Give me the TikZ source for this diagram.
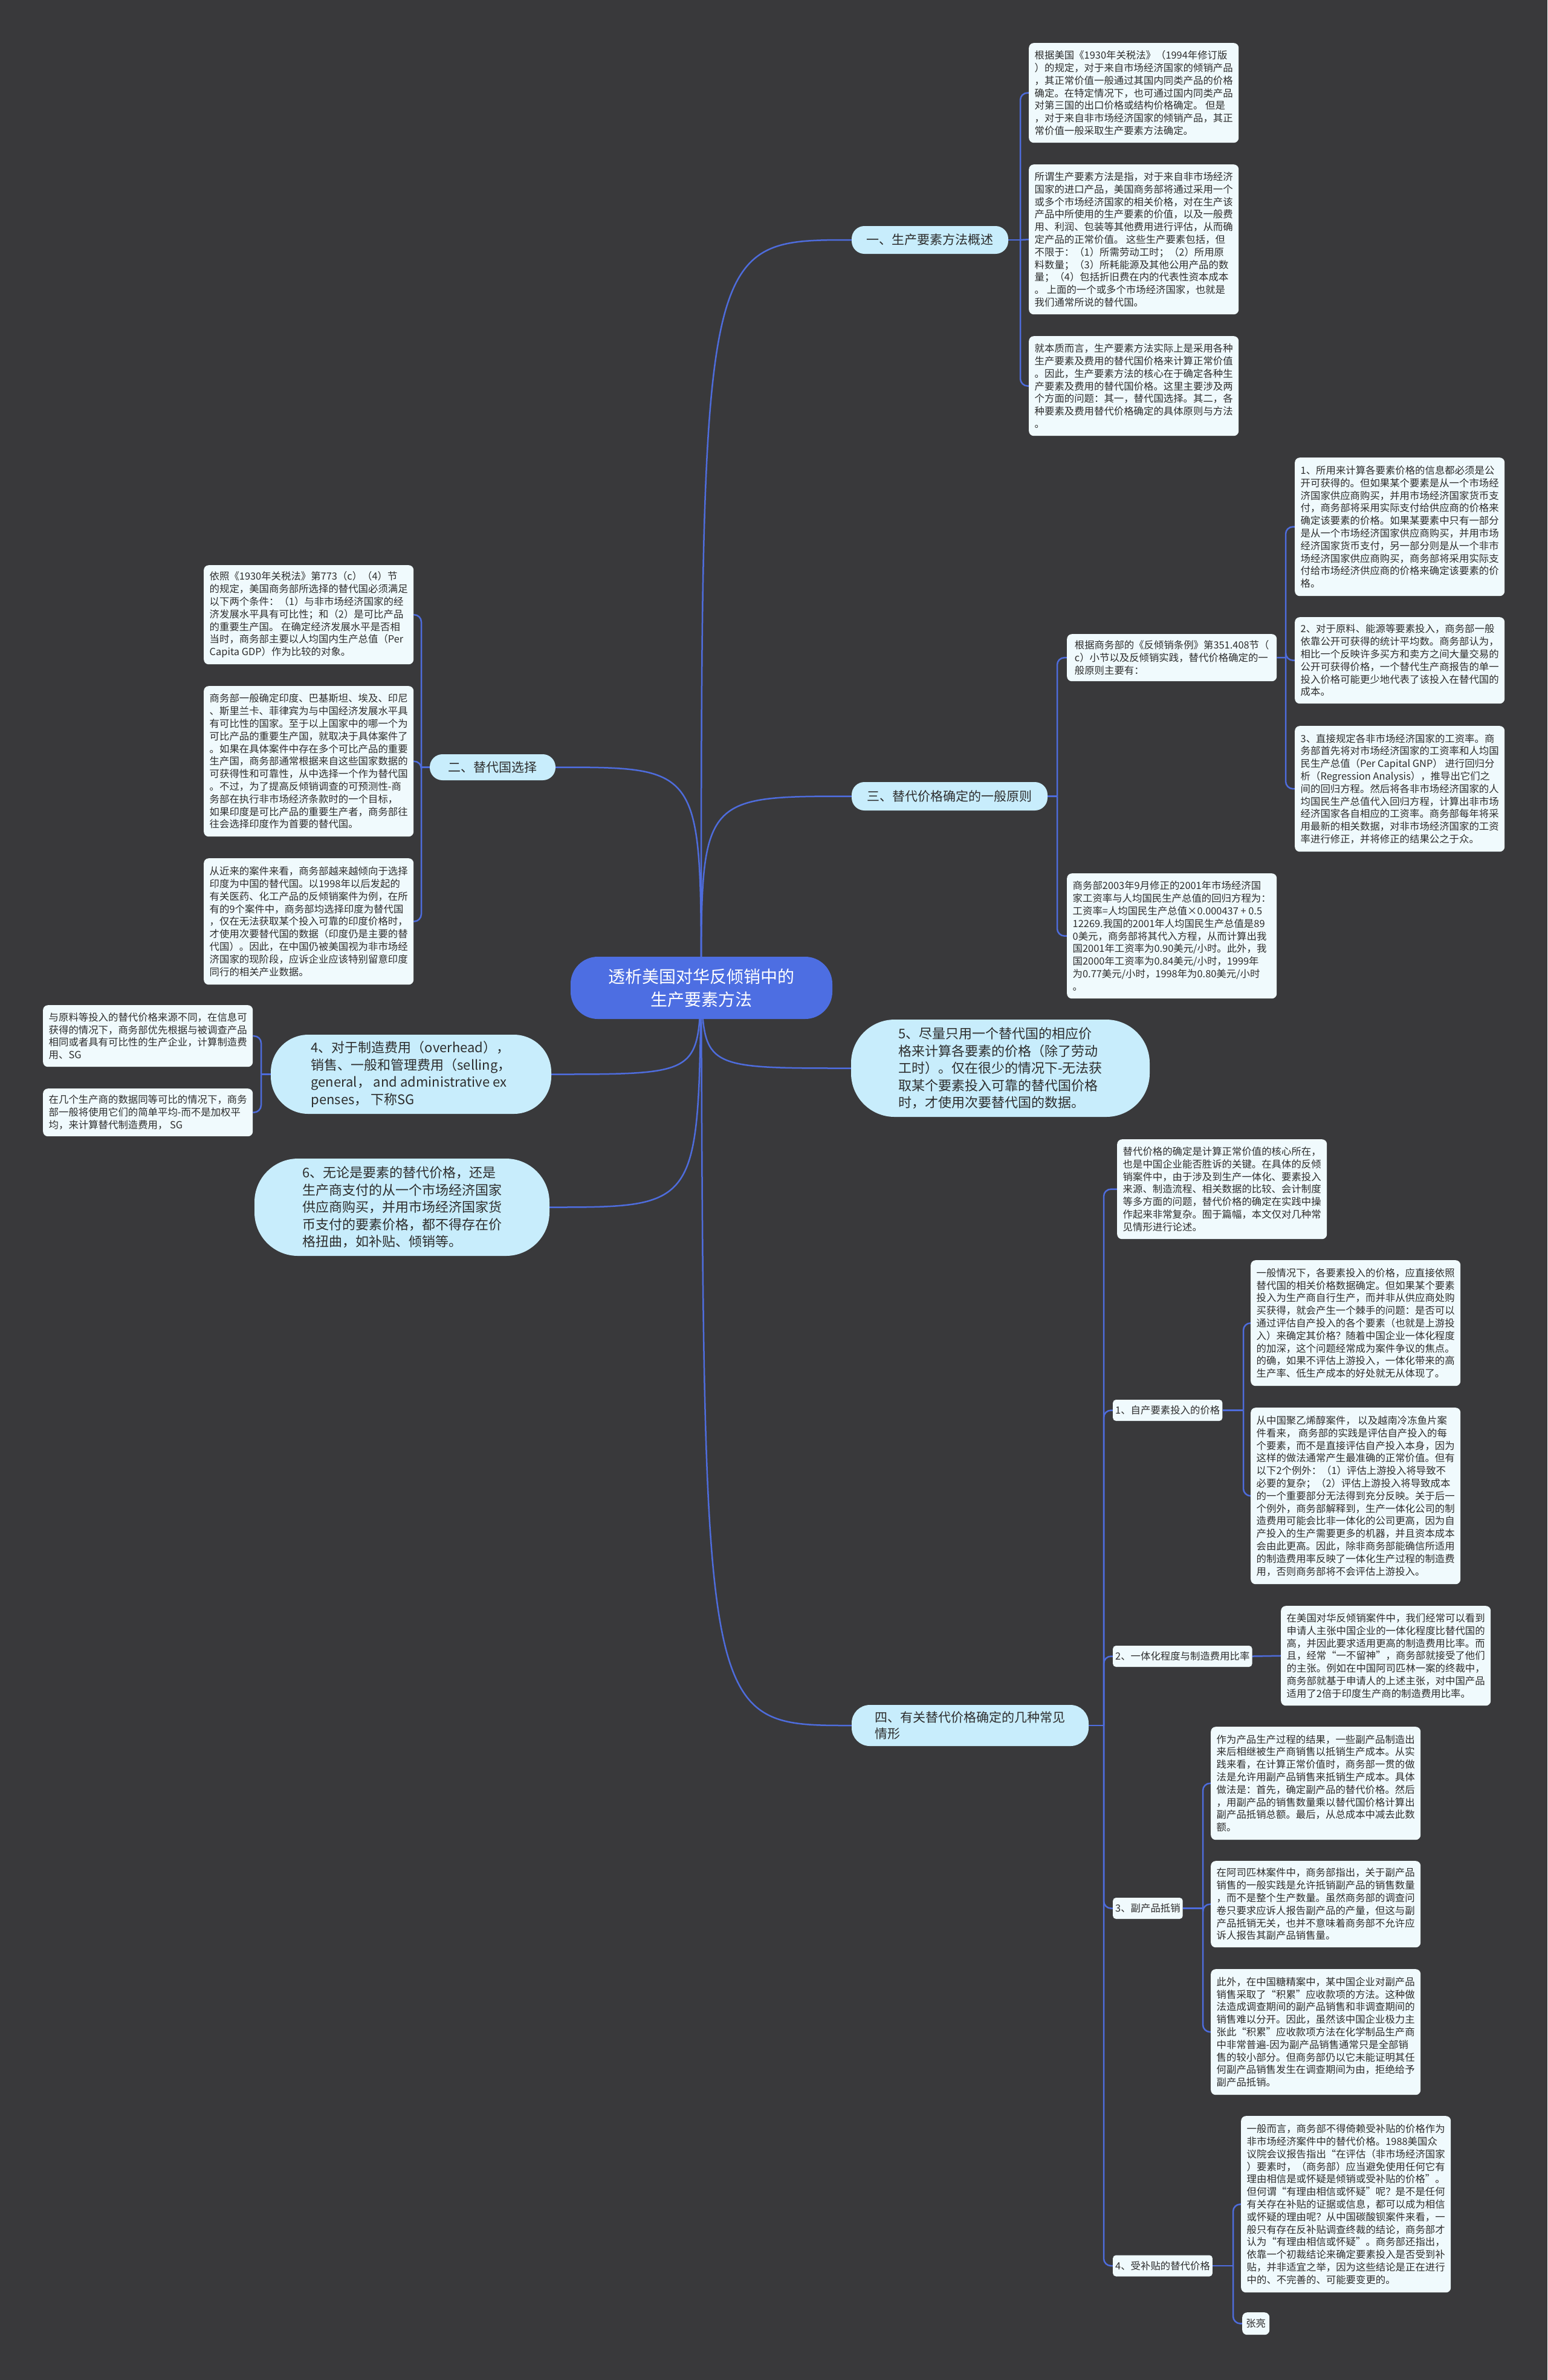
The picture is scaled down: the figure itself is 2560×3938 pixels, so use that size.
\documentclass[tikz,border=0pt]{standalone}
\usepackage{fontspec}
\setmainfont{Noto Sans CJK SC}
\usetikzlibrary{backgrounds}
\definecolor{bgc}{RGB}{57,57,59}
\definecolor{descfill}{RGB}{240,250,253}
\definecolor{pillfill}{RGB}{200,237,252}
\definecolor{cenfill}{RGB}{77,110,226}
\definecolor{linec}{RGB}{78,108,220}
\definecolor{txt}{RGB}{45,45,45}
\newcommand{\fdesc}{\fontsize{16.4}{20.8}\selectfont}
\newcommand{\fbranch}{\fontsize{21}{27}\selectfont}
\newcommand{\fbig}{\fontsize{22}{28.5}\selectfont}
\newcommand{\fcenter}{\fontsize{28}{38}\selectfont}
\tikzset{
  desc/.style={fill=descfill, rounded corners=8pt, anchor=north west, minimum width=347pt, inner xsep=6pt, inner ysep=0pt, align=left, font=\fdesc, text=txt},
  pill/.style={fill=pillfill, rounded corners=21pt, inner sep=0pt, align=left, font=\fbranch, text=txt},
  bigpill/.style={fill=pillfill, inner sep=0pt, align=left, font=\fbig, text=txt},
  sublab/.style={fill=descfill, rounded corners=5pt, anchor=west, inner xsep=4pt, inner ysep=0pt, minimum height=35pt, font=\fdesc, text=txt},
  conn/.style={draw=linec, line width=2.5pt},
  brk/.style={draw=linec, line width=2.5pt, rounded corners=12pt},
}
\begin{document}
\begin{tikzpicture}[x=1pt,y=-1pt]
\useasboundingbox (0,0) rectangle (2560,3938);
% central
\node[fill=cenfill, rounded corners=45pt, minimum width=433pt, minimum height=103pt, inner sep=0pt, align=center, font=\fcenter, text=white] (c) at (1160.5,1634.5) {透析美国对华反倾销中的\\生产要素方法};
% main branches
\node[pill, minimum width=259pt, minimum height=46pt] (n1) at (1538.5,397) {一、生产要素方法概述};
\node[pill, minimum width=324pt, minimum height=47pt] (n3) at (1571,1317.5) {三、替代价格确定的一般原则};
\node[pill, minimum width=208pt, minimum height=43pt] (n2) at (815,1269.5) {二、替代国选择};
\node[pill, rounded corners=30pt, minimum width=392pt, minimum height=68pt] (n4) at (1605,2855) {四、有关替代价格确定的几种常见\\情形};
\node[bigpill, rounded corners=72pt, minimum width=494pt, minimum height=161pt] (n5) at (1655,1767.5) {5、尽量只用一个替代国的相应价\\格来计算各要素的价格（除了劳动\\工时）。仅在很少的情况下-无法获\\取某个要素投入可靠的替代国价格\\时，才使用次要替代国的数据。};
\node[bigpill, rounded corners=62pt, minimum width=464pt, minimum height=131pt] (nf) at (680,1777.5) {4、对于制造费用（overhead），\\销售、一般和管理费用（selling，\\general， and administrative ex\\penses， 下称SG};
\node[bigpill, rounded corners=72pt, minimum width=488pt, minimum height=161pt] (n6) at (665,1997.5) {6、无论是要素的替代价格，还是\\生产商支付的从一个市场经济国家\\供应商购买，并用市场经济国家货\\币支付的要素价格，都不得存在价\\格扭曲，如补贴、倾销等。};
% branch 1 descriptions
\node[desc, minimum height=165pt] (T1) at (1702,71) {根据美国《1930年关税法》（1994年修订版\\）的规定，对于来自市场经济国家的倾销产品\\，其正常价值一般通过其国内同类产品的价格\\确定。在特定情况下，也可通过国内同类产品\\对第三国的出口价格或结构价格确定。 但是\\，对于来自非市场经济国家的倾销产品，其正\\常价值一般采取生产要素方法确定。};
\node[desc, minimum height=248pt] (T2) at (1702,272) {所谓生产要素方法是指，对于来自非市场经济\\国家的进口产品，美国商务部将通过采用一个\\或多个市场经济国家的相关价格，对在生产该\\产品中所使用的生产要素的价值，以及一般费\\用、利润、包装等其他费用进行评估，从而确\\定产品的正常价值。 这些生产要素包括，但\\不限于：（1）所需劳动工时；（2）所用原\\料数量；（3）所耗能源及其他公用产品的数\\量；（4）包括折旧费在内的代表性资本成本\\。 上面的一个或多个市场经济国家，也就是\\我们通常所说的替代国。};
\node[desc, minimum height=165pt] (T3) at (1702,556) {就本质而言，生产要素方法实际上是采用各种\\生产要素及费用的替代国价格来计算正常价值\\。因此，生产要素方法的核心在于确定各种生\\产要素及费用的替代国价格。这里主要涉及两\\个方面的问题：其一，替代国选择。其二，各\\种要素及费用替代价格确定的具体原则与方法\\。};
% branch 3
\node[desc, minimum height=78pt] (M1) at (1765,1049) {根据商务部的《反倾销条例》第351.408节（\\c）小节以及反倾销实践，替代价格确定的一\\般原则主要有：};
\node[desc, minimum height=207pt] (M2) at (1765,1445) {商务部2003年9月修正的2001年市场经济国\\家工资率与人均国民生产总值的回归方程为：\\工资率=人均国民生产总值×0.000437 + 0.5\\12269.我国的2001年人均国民生产总值是89\\0美元，商务部将其代入方程，从而计算出我\\国2001年工资率为0.90美元/小时。此外，我\\国2000年工资率为0.84美元/小时，1999年\\为0.77美元/小时，1998年为0.80美元/小时\\。};
\node[desc, minimum height=229pt] (R1) at (2142,757) {1、所用来计算各要素价格的信息都必须是公\\开可获得的。但如果某个要素是从一个市场经\\济国家供应商购买，并用市场经济国家货币支\\付，商务部将采用实际支付给供应商的价格来\\确定该要素的价格。如果某要素中只有一部分\\是从一个市场经济国家供应商购买，并用市场\\经济国家货币支付，另一部分则是从一个非市\\场经济国家供应商购买，商务部将采用实际支\\付给市场经济供应商的价格来确定该要素的价\\格。};
\node[desc, minimum height=143pt] (R2) at (2142,1021) {2、对于原料、能源等要素投入，商务部一般\\依靠公开可获得的统计平均数。商务部认为，\\相比一个反映许多买方和卖方之间大量交易的\\公开可获得价格，一个替代生产商报告的单一\\投入价格可能更少地代表了该投入在替代国的\\成本。};
\node[desc, minimum height=208pt] (R3) at (2142,1201) {3、直接规定各非市场经济国家的工资率。商\\务部首先将对市场经济国家的工资率和人均国\\民生产总值（Per Capital GNP） 进行回归分\\析（Regression Analysis），推导出它们之\\间的回归方程。然后将各非市场经济国家的人\\均国民生产总值代入回归方程，计算出非市场\\经济国家各自相应的工资率。商务部每年将采\\用最新的相关数据，对非市场经济国家的工资\\率进行修正，并将修正的结果公之于众。};
% branch 2
\node[desc, minimum height=164pt] (L1) at (337,935) {依照《1930年关税法》第773（c）（4）节\\的规定，美国商务部所选择的替代国必须满足\\以下两个条件：（1）与非市场经济国家的经\\济发展水平具有可比性；和（2）是可比产品\\的重要生产国。 在确定经济发展水平是否相\\当时，商务部主要以人均国内生产总值（Per\\Capita GDP）作为比较的对象。};
\node[desc, minimum height=249pt] (L2) at (337,1135) {商务部一般确定印度、巴基斯坦、埃及、印尼\\、斯里兰卡、菲律宾为与中国经济发展水平具\\有可比性的国家。至于以上国家中的哪一个为\\可比产品的重要生产国，就取决于具体案件了\\。如果在具体案件中存在多个可比产品的重要\\生产国，商务部通常根据来自这些国家数据的\\可获得性和可靠性，从中选择一个作为替代国\\。不过，为了提高反倾销调查的可预测性-商\\务部在执行非市场经济条款时的一个目标，\\如果印度是可比产品的重要生产者，商务部往\\往会选择印度作为首要的替代国。};
\node[desc, minimum height=209pt] (L3) at (337,1420) {从近来的案件来看，商务部越来越倾向于选择\\印度为中国的替代国。以1998年以后发起的\\有关医药、化工产品的反倾销案件为例，在所\\有的9个案件中，商务部均选择印度为替代国\\，仅在无法获取某个投入可靠的印度价格时，\\才使用次要替代国的数据（印度仍是主要的替\\代国）。因此，在中国仍被美国视为非市场经\\济国家的现阶段，应诉企业应该特别留意印度\\同行的相关产业数据。};
% node 4 children
\node[desc, minimum height=102pt] (A) at (71,1663) {与原料等投入的替代价格来源不同，在信息可\\获得的情况下，商务部优先根据与被调查产品\\相同或者具有可比性的生产企业，计算制造费\\用、SG};
\node[desc, minimum height=79pt] (B) at (71,1801) {在几个生产商的数据同等可比的情况下，商务\\部一般将使用它们的简单平均-而不是加权平\\均，来计算替代制造费用， SG};
% branch 4
\node[desc, minimum height=165pt] (B0) at (1848,1885) {替代价格的确定是计算正常价值的核心所在，\\也是中国企业能否胜诉的关键。在具体的反倾\\销案件中，由于涉及到生产一体化、要素投入\\来源、制造流程、相关数据的比较、会计制度\\等多方面的问题，替代价格的确定在实践中操\\作起来非常复杂。囿于篇幅，本文仅对几种常\\见情形进行论述。};
\node[sublab] (S1) at (1841,2333.5) {1、自产要素投入的价格};
\node[sublab] (S2) at (1841,2740.5) {2、一体化程度与制造费用比率};
\node[sublab] (S3) at (1841,3157.5) {3、副产品抵销};
\node[sublab] (S4) at (1841,3749) {4、受补贴的替代价格};
\node[desc, minimum height=208pt] (B1a) at (2069,2085) {一般情况下，各要素投入的价格，应直接依照\\替代国的相关价格数据确定。但如果某个要素\\投入为生产商自行生产，而并非从供应商处购\\买获得，就会产生一个棘手的问题：是否可以\\通过评估自产投入的各个要素（也就是上游投\\入）来确定其价格？随着中国企业一体化程度\\的加深，这个问题经常成为案件争议的焦点。\\的确，如果不评估上游投入，一体化带来的高\\生产率、低生产成本的好处就无从体现了。};
\node[desc, minimum height=292pt] (B1b) at (2069,2329) {从中国聚乙烯醇案件， 以及越南冷冻鱼片案\\件看来， 商务部的实践是评估自产投入的每\\个要素，而不是直接评估自产投入本身，因为\\这样的做法通常产生最准确的正常价值。但有\\以下2个例外：（1）评估上游投入将导致不\\必要的复杂；（2）评估上游投入将导致成本\\的一个重要部分无法得到充分反映。关于后一\\个例外，商务部解释到，生产一体化公司的制\\造费用可能会比非一体化的公司更高，因为自\\产投入的生产需要更多的机器，并且资本成本\\会由此更高。因此，除非商务部能确信所适用\\的制造费用率反映了一体化生产过程的制造费\\用，否则商务部将不会评估上游投入。};
\node[desc, minimum height=165pt] (B2) at (2119,2657) {在美国对华反倾销案件中，我们经常可以看到\\申请人主张中国企业的一体化程度比替代国的\\高，并因此要求适用更高的制造费用比率。而\\且，经常“一不留神”，商务部就接受了他们\\的主张。例如在中国阿司匹林一案的终裁中，\\商务部就基于申请人的上述主张，对中国产品\\适用了2倍于印度生产商的制造费用比率。};
\node[desc, minimum height=187pt] (B3a) at (2003,2857) {作为产品生产过程的结果，一些副产品制造出\\来后相继被生产商销售以抵销生产成本。从实\\践来看，在计算正常价值时，商务部一贯的做\\法是允许用副产品销售来抵销生产成本。具体\\做法是：首先，确定副产品的替代价格。然后\\，用副产品的销售数量乘以替代国价格计算出\\副产品抵销总额。最后，从总成本中减去此数\\额。};
\node[desc, minimum height=143pt] (B3b) at (2003,3079) {在阿司匹林案件中，商务部指出，关于副产品\\销售的一般实践是允许抵销副产品的销售数量\\，而不是整个生产数量。虽然商务部的调查问\\卷只要求应诉人报告副产品的产量，但这与副\\产品抵销无关，也并不意味着商务部不允许应\\诉人报告其副产品销售量。};
\node[desc, minimum height=208pt] (B3c) at (2003,3258) {此外，在中国糖精案中，某中国企业对副产品\\销售采取了“积累”应收款项的方法。这种做\\法造成调查期间的副产品销售和非调查期间的\\销售难以分开。因此，虽然该中国企业极力主\\张此“积累”应收款项方法在化学制品生产商\\中非常普遍-因为副产品销售通常只是全部销\\售的较小部分。但商务部仍以它未能证明其任\\何副产品销售发生在调查期间为由，拒绝给予\\副产品抵销。};
\node[desc, minimum height=292pt] (B4a) at (2053,3501) {一般而言，商务部不得倚赖受补贴的价格作为\\非市场经济案件中的替代价格。1988美国众\\议院会议报告指出“在评估（非市场经济国家\\）要素时，（商务部）应当避免使用任何它有\\理由相信是或怀疑是倾销或受补贴的价格”。\\但何谓“有理由相信或怀疑”呢？是不是任何\\有关存在补贴的证据或信息，都可以成为相信\\或怀疑的理由呢？从中国碳酸钡案件来看，一\\般只有存在反补贴调查终裁的结论，商务部才\\认为“有理由相信或怀疑”。商务部还指出，\\依靠一个初裁结论来确定要素投入是否受到补\\贴，并非适宜之举，因为这些结论是正在进行\\中的、不完善的、可能要变更的。};
\node[desc, minimum width=45pt, minimum height=37pt, inner xsep=6pt] (ZL) at (2055,3826) {张亮};
% connectors
\begin{pgfonlayer}{background}
\fill[bgc] (0,0) rectangle (2560,3938);
\coordinate (c0) at (1160,1634);
\draw[conn] (c0) .. controls (1160,397) .. (n1.west);
\draw[conn] (c0) .. controls (1160,1317.5) .. (n3.west);
\draw[conn] (c0) .. controls (1160,1269.5) .. (n2.east);
\draw[conn] (c0) .. controls (1165,1767.5) .. (n5.west);
\draw[conn] (c0) .. controls (1155,1777.5) .. (nf.east);
\draw[conn] (c0) .. controls (1155,1997.5) .. (n6.east);
\draw[conn] (c0) .. controls (1165,2855) .. (n4.west);
% n1 bracket
\coordinate (j1) at (1688,397);
\draw[conn] (n1.east) -- (j1);
\draw[brk] (j1) -- (1688,153.5) -- (T1.west);
\draw[brk] (j1) -- (T2.west);
\draw[brk] (j1) -- (1688,638.5) -- (T3.west);
% n3 bracket
\coordinate (j3) at (1749,1317.5);
\draw[conn] (n3.east) -- (j3);
\draw[brk] (j3) -- (1749,1088) -- (M1.west);
\draw[brk] (j3) -- (1749,1548.5) -- (M2.west);
% M1 bracket
\coordinate (jm) at (2127,1088);
\draw[conn] (M1.east) -- (jm);
\draw[brk] (jm) -- (2127,871.5) -- (R1.west);
\draw[brk] (jm) -- (2127,1092.5) -- (R2.west);
\draw[brk] (jm) -- (2127,1305) -- (R3.west);
% n2 bracket
\coordinate (j2) at (697,1269.5);
\draw[conn] (n2.west) -- (j2);
\draw[brk] (j2) -- (697,1017) -- (L1.east);
\draw[brk] (j2) -- (697,1259.5) -- (L2.east);
\draw[brk] (j2) -- (697,1524.5) -- (L3.east);
% node 4 bracket
\coordinate (jf) at (432,1777.5);
\draw[conn] (nf.west) -- (jf);
\draw[brk] (jf) -- (432,1714) -- (A.east);
\draw[brk] (jf) -- (432,1840.5) -- (B.east);
% n4 bracket
\coordinate (j4) at (1826,2855);
\draw[conn] (n4.east) -- (j4);
\draw[brk] (j4) -- (1826,1967.5) -- (B0.west);
\draw[brk] (j4) -- (1826,2333.5) -- (S1.west);
\draw[brk] (j4) -- (1826,2740.5) -- (S2.west);
\draw[brk] (j4) -- (1826,3157.5) -- (S3.west);
\draw[brk] (j4) -- (1826,3749) -- (S4.west);
% S1
\coordinate (js1) at (2057,2333.5);
\draw[conn] (S1.east) -- (js1);
\draw[brk] (js1) -- (2057,2189) -- (B1a.west);
\draw[brk] (js1) -- (2057,2475) -- (B1b.west);
% S2
\draw[conn] (S2.east) -- (B2.west);
% S3
\coordinate (js3) at (1990,3157.5);
\draw[conn] (S3.east) -- (js3);
\draw[brk] (js3) -- (1990,2950.5) -- (B3a.west);
\draw[brk] (js3) -- (1990,3150.5) -- (B3b.west);
\draw[brk] (js3) -- (1990,3362) -- (B3c.west);
% S4
\coordinate (js4) at (2040,3749);
\draw[conn] (S4.east) -- (js4);
\draw[brk] (js4) -- (2040,3647) -- (B4a.west);
\draw[brk] (js4) -- (2040,3844.5) -- (ZL.west);
\end{pgfonlayer}
\end{tikzpicture}
\end{document}
